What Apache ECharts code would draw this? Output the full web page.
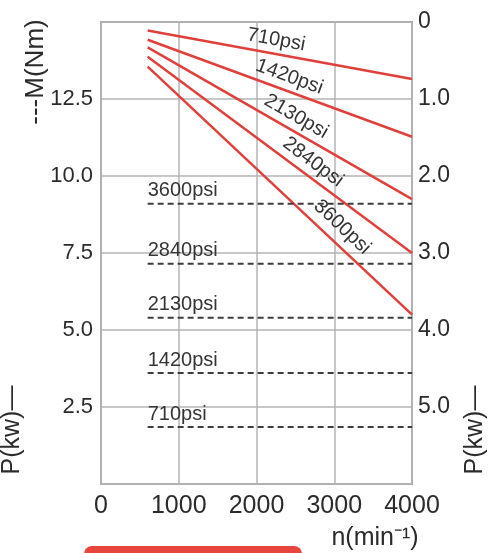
<!DOCTYPE html>
<html>
<head>
<meta charset="utf-8">
<script src="https://cdn.jsdelivr.net/npm/echarts@6/dist/echarts.min.js"></script>
<style>
html,body{margin:0;padding:0;background:#fff;}
#c{width:492px;height:553px;}
</style>
</head>
<body>
<div id="c"></div>
<script>
// ---- data ----
const speedRange = [600, 4000];                       // n (min^-1), start/end of curves
const pressures = ['710psi', '1420psi', '2130psi', '2840psi', '3600psi'];
const powerAtStart = [0.11, 0.23, 0.33, 0.45, 0.58];  // P (kW) at n=600
const powerAtEnd = [0.74, 1.49, 2.30, 3.00, 3.80];    // P (kW) at n=4000
const torque = [1.85, 3.6, 5.4, 7.15, 9.1];           // M (Nm), constant
const xTickLabels = ['0', '1000', '2000', '3000', '4000'];
const leftTickLabels = ['', '2.5', '5.0', '7.5', '10.0', '12.5', ''];
const rightTickLabels = ['0', '1.0', '2.0', '3.0', '4.0', '5.0', ''];

// label placement (not data)
const powerLabelAt = [2220, 2360, 2420, 2620, 2960];
const powerLabelOffset = [14, 14, 14, 14, 16];

const FONT = '"Liberation Sans", Arial, sans-serif';
const TXT = '#2b2b2b';
const chart = echarts.init(document.getElementById('c'), null, {renderer: 'canvas'});

const series = [];
pressures.forEach((p, i) => {
  series.push({
    name: 'P ' + p, type: 'line', xAxisIndex: 0, yAxisIndex: 1,
    showSymbol: false, symbol: 'none', silent: true,
    lineStyle: {color: '#e0403c', width: 2.5},
    data: [[speedRange[0], powerAtStart[i]], [speedRange[1], powerAtEnd[i]]]
  });
  series.push({
    name: 'M ' + p, type: 'line', xAxisIndex: 0, yAxisIndex: 0,
    showSymbol: false, symbol: 'none', silent: true,
    lineStyle: {color: '#3c3c3c', width: 2, type: [6, 4]},
    data: [[speedRange[0], torque[i]], [speedRange[1], torque[i]]]
  });
});

const option = {
  animation: false,
  backgroundColor: '#fff',
  grid: {left: 101, right: 80, top: 22, bottom: 69, show: true, borderColor: '#a8a8a8', borderWidth: 2},
  xAxis: {
    type: 'value', min: 0, max: 4000, interval: 1000,
    axisLine: {show: false}, axisTick: {show: false},
    splitLine: {show: true, lineStyle: {color: '#b4b4b4', width: 1.5}},
    axisLabel: {
      margin: 10, fontSize: 25, color: TXT, fontFamily: FONT,
      formatter: (v, idx) => xTickLabels[idx]
    }
  },
  yAxis: [
    {
      type: 'value', min: 0, max: 15, interval: 2.5, position: 'left',
      axisLine: {show: false}, axisTick: {show: false},
      splitLine: {show: true, lineStyle: {color: '#b4b4b4', width: 1.5}},
      axisLabel: {
        margin: 8, fontSize: 22, color: TXT, fontFamily: FONT,
        formatter: (v, idx) => leftTickLabels[idx]
      }
    },
    {
      type: 'value', min: 0, max: 6, interval: 1, position: 'right', inverse: true,
      axisLine: {show: false}, axisTick: {show: false}, splitLine: {show: false},
      axisLabel: {
        margin: 6, fontSize: 23, color: TXT, fontFamily: FONT,
        formatter: (v, idx) => rightTickLabels[idx]
      }
    }
  ],
  series: series
};
chart.setOption(option);

// ---- text labels positioned from the axes ----
const graphics = [];
pressures.forEach((p, i) => {
  const a = chart.convertToPixel({xAxisIndex: 0, yAxisIndex: 1}, [speedRange[0], powerAtStart[i]]);
  const b = chart.convertToPixel({xAxisIndex: 0, yAxisIndex: 1}, [speedRange[1], powerAtEnd[i]]);
  const dx = b[0] - a[0], dy = b[1] - a[1];
  const len = Math.sqrt(dx * dx + dy * dy);
  const t = (powerLabelAt[i] - speedRange[0]) / (speedRange[1] - speedRange[0]);
  const px = a[0] + dx * t, py = a[1] + dy * t;
  const off = powerLabelOffset[i];
  graphics.push({
    type: 'text', x: px + off * dy / len, y: py - off * dx / len,
    rotation: -Math.atan2(dy, dx), silent: true,
    style: {text: p, fill: '#353535', font: '20px ' + FONT, textAlign: 'center', textVerticalAlign: 'middle'}
  });
  const m = chart.convertToPixel({xAxisIndex: 0, yAxisIndex: 0}, [speedRange[0], torque[i]]);
  graphics.push({
    type: 'text', x: m[0], y: m[1] - 13, silent: true,
    style: {text: p, fill: '#353535', font: '20px ' + FONT, textAlign: 'left', textVerticalAlign: 'middle'}
  });
});
// axis names
graphics.push({
  type: 'text', x: 36, y: 72, rotation: Math.PI / 2, silent: true,
  style: {text: '---M(Nm)', fill: TXT, font: '26px ' + FONT, textAlign: 'center', textVerticalAlign: 'middle'}
});
graphics.push({
  type: 'text', x: 12, y: 430, rotation: Math.PI / 2, silent: true,
  style: {text: 'P(kw)\u2014', fill: TXT, font: '25px ' + FONT, textAlign: 'center', textVerticalAlign: 'middle'}
});
graphics.push({
  type: 'text', x: 475, y: 430, rotation: Math.PI / 2, silent: true,
  style: {text: 'P(kw)\u2014', fill: TXT, font: '25px ' + FONT, textAlign: 'center', textVerticalAlign: 'middle'}
});
graphics.push({
  type: 'text', x: 375, y: 538, silent: true,
  style: {text: 'n(min\u207B\u00B9)', fill: TXT, font: '25px ' + FONT, textAlign: 'center', textVerticalAlign: 'middle'}
});
// decorative red bar at the bottom edge
graphics.push({
  type: 'rect', silent: true,
  shape: {x: 84, y: 546, width: 218, height: 20, r: 8},
  style: {fill: '#e8453c'}
});
chart.setOption({graphic: graphics});
</script>
</body>
</html>
